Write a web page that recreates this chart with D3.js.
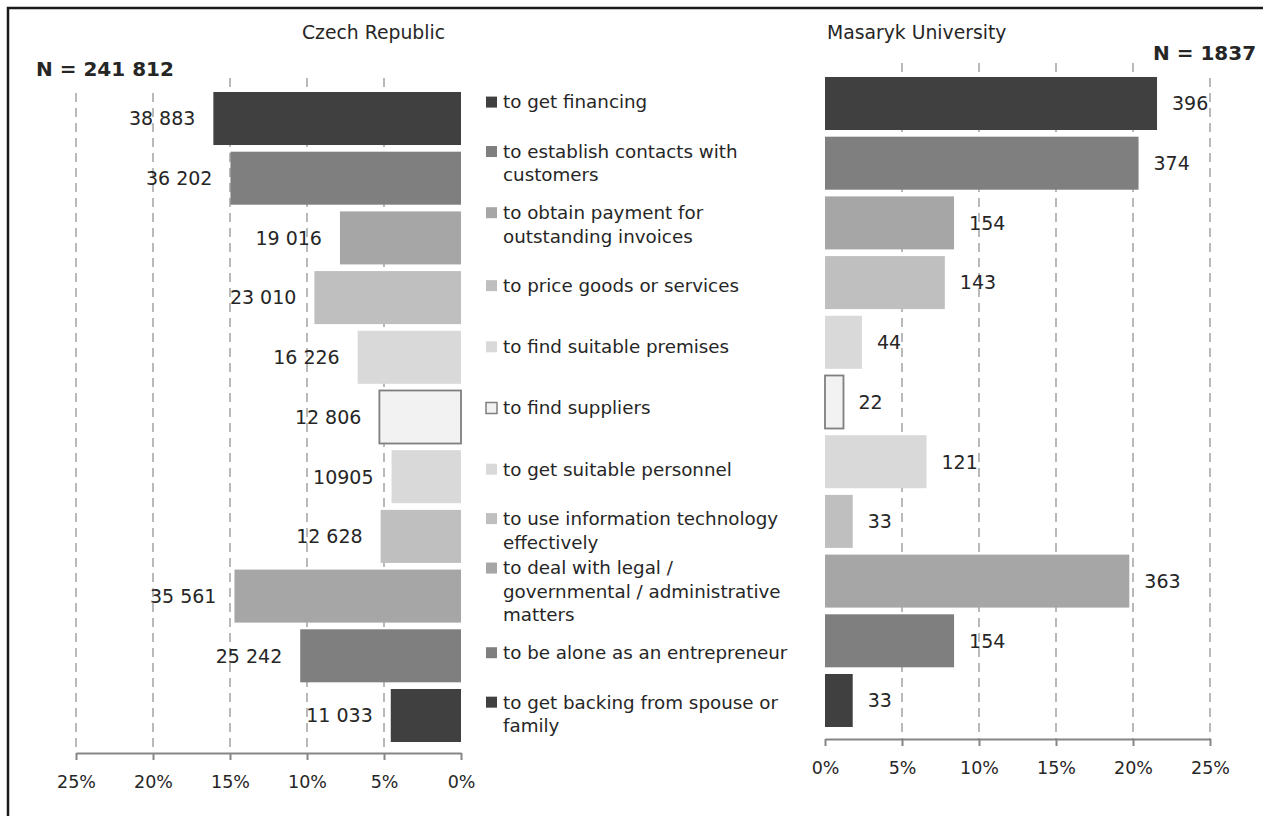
<!DOCTYPE html>
<html>
<head>
<meta charset="utf-8">
<script src="https://cdn.jsdelivr.net/npm/d3@7"></script>
<style>
  html, body { margin: 0; padding: 0; background: #fff; }
  svg { display: block; font-family: "DejaVu Sans", sans-serif; }
</style>
</head>
<body>
<svg id="chart" width="1263" height="816"></svg>
<script>
// ---------------- data ----------------
const categories = [
  "to get financing",
  "to establish contacts with customers",
  "to obtain payment for outstanding invoices",
  "to price goods or services",
  "to find suitable premises",
  "to find suppliers",
  "to get suitable personnel",
  "to use information technology effectively",
  "to deal with legal / governmental / administrative matters",
  "to be alone as an entrepreneur",
  "to get backing from spouse or family"
];
const legendLines = [
  ["to get financing"],
  ["to establish contacts with", "customers"],
  ["to obtain payment for", "outstanding invoices"],
  ["to price goods or services"],
  ["to find suitable premises"],
  ["to find suppliers"],
  ["to get suitable personnel"],
  ["to use information technology", "effectively"],
  ["to deal with legal /", "governmental / administrative", "matters"],
  ["to be alone as an entrepreneur"],
  ["to get backing from spouse or", "family"]
];
const colors = ["#404040", "#7f7f7f", "#a6a6a6", "#bfbfbf", "#d9d9d9", "#f2f2f2",
                "#d9d9d9", "#bfbfbf", "#a6a6a6", "#7f7f7f", "#404040"];

// Czech Republic (share of respondents, %) and count labels
const czPct = [16.08, 14.97, 7.86, 9.52, 6.71, 5.30, 4.51, 5.22, 14.71, 10.44, 4.56];
const czLabels = ["38 883", "36 202", "19 016", "23 010", "16 226", "12 806",
                  "10905", "12 628", "35 561", "25 242", "11 033"];
// Masaryk University (share of respondents, %) and count labels
const muPct = [21.56, 20.36, 8.38, 7.78, 2.40, 1.20, 6.59, 1.80, 19.76, 8.38, 1.80];
const muLabels = ["396", "374", "154", "143", "44", "22", "121", "33", "363", "154", "33"];

const tickValues = [0, 5, 10, 15, 20, 25];
const czTitle = "Czech Republic";
const muTitle = "Masaryk University";
const czN = "N = 241 812";
const muN = "N = 1837";

// ---------------- drawing ----------------
const svg = d3.select("#chart");
const textColor = "#262626";
const gridColor = "#8c8c8c";

// outer frame
svg.append("rect")
  .attr("x", 8).attr("y", 8).attr("width", 1270).attr("height", 830)
  .attr("fill", "none").attr("stroke", "#1a1a1a").attr("stroke-width", 2.5);

const idx = d3.range(categories.length);

function panel(opts) {
  const g = svg.append("g");
  const x = d3.scaleLinear().domain([0, 25]).range(opts.xRange);
  const y = d3.scaleBand().domain(idx).range(opts.yRange)
    .paddingInner(0.112).paddingOuter(0.056);

  // gridlines
  g.selectAll("line.grid").data(tickValues.filter(d => d > 0)).join("line")
    .attr("class", "grid")
    .attr("x1", d => x(d)).attr("x2", d => x(d))
    .attr("y1", opts.gridTop).attr("y2", opts.axisY)
    .attr("stroke", gridColor).attr("stroke-width", 1.2)
    .attr("stroke-dasharray", "9,6");

  // bars
  g.selectAll("rect.bar").data(idx).join("rect")
    .attr("class", "bar")
    .attr("x", i => Math.min(x(0), x(opts.values[i])))
    .attr("width", i => Math.abs(x(opts.values[i]) - x(0)))
    .attr("y", i => y(i))
    .attr("height", y.bandwidth())
    .attr("fill", i => colors[i])
    .attr("stroke", i => i === 5 ? "#7f7f7f" : "none")
    .attr("stroke-width", i => i === 5 ? 1.8 : 0);

  // value labels
  g.selectAll("text.val").data(idx).join("text")
    .attr("class", "val")
    .attr("x", i => x(opts.values[i]) + opts.labelOffset)
    .attr("y", i => y(i) + y.bandwidth() / 2)
    .attr("dy", "0.36em")
    .attr("text-anchor", opts.labelAnchor)
    .attr("font-size", 19)
    .attr("fill", textColor)
    .text(i => opts.labels[i]);

  // axis
  const axis = d3.axisBottom(x).tickValues(tickValues)
    .tickFormat(d => d + "%").tickSize(7).tickSizeOuter(0).tickPadding(16);
  const ag = g.append("g").attr("transform", `translate(0,${opts.axisY})`).call(axis);
  ag.select(".domain").attr("stroke", "#868686").attr("stroke-width", 2);
  ag.selectAll(".tick line").attr("stroke", "#868686").attr("stroke-width", 2);
  ag.selectAll(".tick text").attr("font-size", 17.5).attr("fill", textColor)
    .attr("font-family", "DejaVu Sans, sans-serif");

  // title
  g.append("text").attr("x", opts.titleX).attr("y", 32).attr("dy", "0.35em")
    .attr("text-anchor", "start").attr("font-size", 18.8).attr("fill", textColor)
    .text(opts.title);

  // N label (white box covers gridlines)
  const nt = g.append("text").attr("x", opts.nX).attr("y", opts.nY).attr("dy", "0.36em")
    .attr("font-size", 20).attr("font-weight", "bold").attr("fill", textColor)
    .text(opts.n);
  const bb = nt.node().getBBox();
  g.insert("rect", "text.nlabel")
    .attr("x", bb.x - 4).attr("y", bb.y - 2).attr("width", bb.width + 8)
    .attr("height", opts.nBoxBottom - (bb.y - 2)).attr("fill", "#fff");
  nt.raise();
}

panel({
  xRange: [461, 76], yRange: [88.65, 745.35], axisY: 753, gridTop: 78,
  values: czPct, labels: czLabels, labelOffset: -18, labelAnchor: "end",
  title: czTitle, titleX: 302, n: czN, nX: 36, nY: 69, nBoxBottom: 91
});
panel({
  xRange: [825, 1210], yRange: [73.65, 730.35], axisY: 739, gridTop: 63,
  values: muPct, labels: muLabels, labelOffset: 15, labelAnchor: "start",
  title: muTitle, titleX: 827, n: muN, nX: 1153, nY: 53, nBoxBottom: 76
});

// legend
const ly = d3.scaleBand().domain(idx).range([71.5, 744.5]);
const lineH = 23.5;
const lg = svg.append("g");
idx.forEach(i => {
  const lines = legendLines[i];
  const c = ly(i) + ly.bandwidth() / 2;
  const first = c - (lines.length - 1) * lineH / 2;
  lg.append("rect")
    .attr("x", 486).attr("y", first - 5.5).attr("width", 11).attr("height", 11)
    .attr("fill", colors[i])
    .attr("stroke", i === 5 ? "#7f7f7f" : "none").attr("stroke-width", i === 5 ? 1.5 : 0);
  const t = lg.append("text").attr("font-size", 18.3).attr("fill", textColor);
  lines.forEach((ln, k) => {
    t.append("tspan").attr("x", 503).attr("y", first + k * lineH).attr("dy", "0.35em").text(ln);
  });
});
</script>
</body>
</html>
